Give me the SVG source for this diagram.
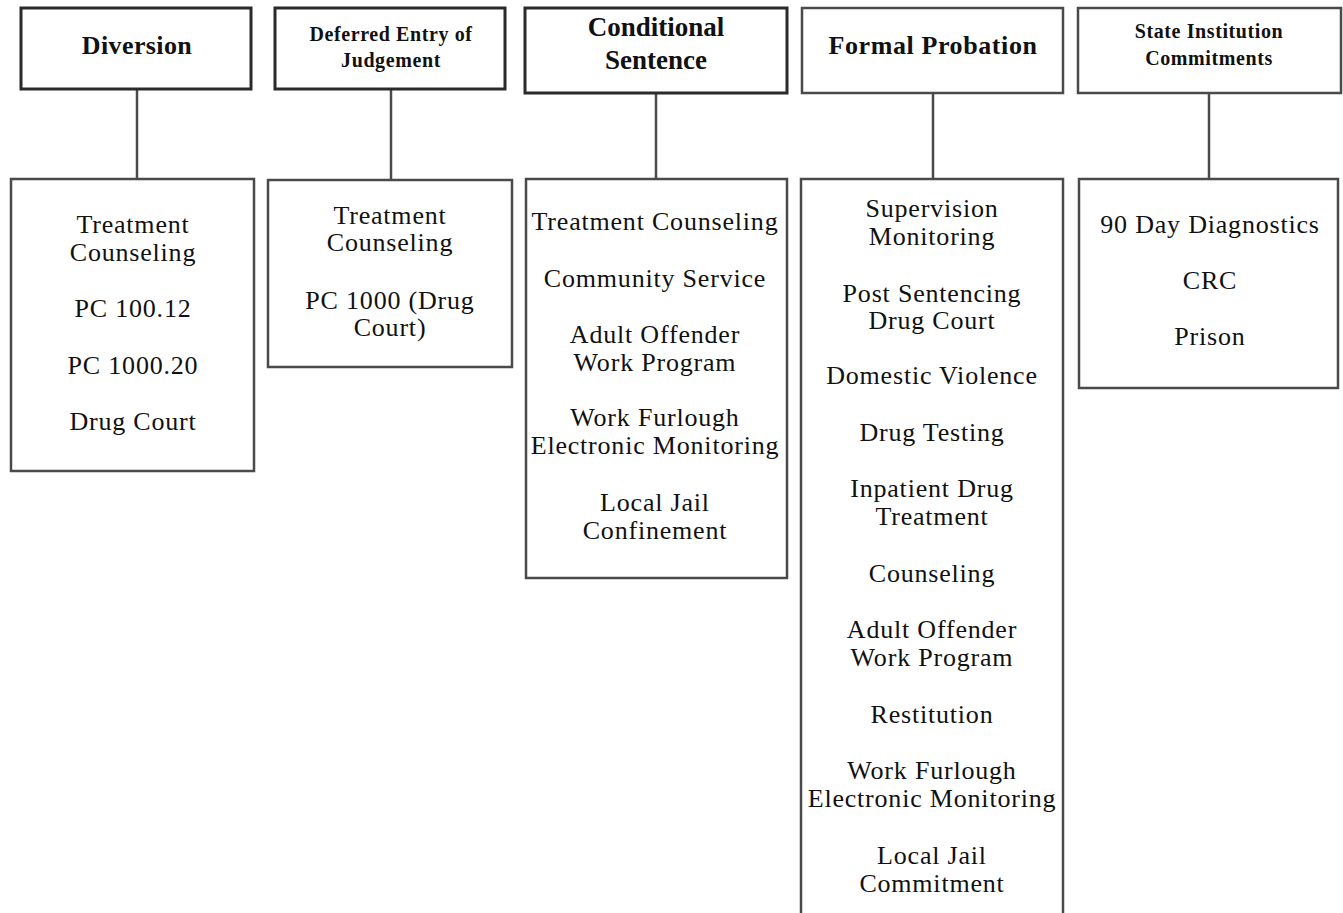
<svg xmlns="http://www.w3.org/2000/svg" width="1343" height="913" viewBox="0 0 1343 913">
<style>
.bg{fill:#ffffff}
.hd{fill:#ffffff;stroke:#2a2a2a;stroke-width:3}
.hd2{fill:#ffffff;stroke:#4a4a4a;stroke-width:2.5}
.sb{fill:#ffffff;stroke:#4a4a4a;stroke-width:2.5}
.cn{stroke:#4a4a4a;stroke-width:2.5;fill:none}
.h{font-family:"Liberation Serif","Times New Roman",serif;font-weight:bold;fill:#111;text-anchor:middle}
.hs{letter-spacing:0.6px}
.t{font-family:"Liberation Serif","Times New Roman",serif;font-size:26px;letter-spacing:0.8px;fill:#111;text-anchor:middle}
</style>
<rect class="bg" x="0" y="0" width="1343" height="913"/>
<g id="connectors">
<line class="cn" x1="137" y1="89" x2="137" y2="179"/>
<line class="cn" x1="391" y1="89" x2="391" y2="180"/>
<line class="cn" x1="656" y1="93" x2="656" y2="179"/>
<line class="cn" x1="933" y1="93" x2="933" y2="179"/>
<line class="cn" x1="1209" y1="93" x2="1209" y2="179"/>
</g>
<g id="diversion">
<rect class="hd" x="21" y="8" width="230" height="81"/>
<text class="h" x="137" y="54" font-size="26" letter-spacing="0.4">Diversion</text>
</g>
<g id="diversion-options">
<rect class="sb" x="11" y="179" width="243" height="292"/>
<text class="t" x="133" y="233">Treatment</text>
<text class="t" x="133" y="261">Counseling</text>
<text class="t" x="133" y="317">PC 100.12</text>
<text class="t" x="133" y="374">PC 1000.20</text>
<text class="t" x="133" y="430">Drug Court</text>
</g>
<g id="dej">
<rect class="hd" x="275" y="8" width="230" height="81"/>
<text class="h hs" x="391" y="41" font-size="20">Deferred Entry of</text>
<text class="h hs" x="391" y="67" font-size="20">Judgement</text>
</g>
<g id="dej-options">
<rect class="sb" x="268" y="180" width="244" height="187"/>
<text class="t" x="390" y="224">Treatment</text>
<text class="t" x="390" y="251">Counseling</text>
<text class="t" x="390" y="309">PC 1000 (Drug</text>
<text class="t" x="390" y="336">Court)</text>
</g>
<g id="conditional">
<rect class="hd" x="525" y="8" width="262" height="85"/>
<text class="h" x="656" y="36" font-size="27">Conditional</text>
<text class="h" x="656" y="69" font-size="27">Sentence</text>
</g>
<g id="conditional-options">
<rect class="sb" x="526" y="179" width="261" height="399"/>
<text class="t" x="655" y="230">Treatment Counseling</text>
<text class="t" x="655" y="287">Community Service</text>
<text class="t" x="655" y="343">Adult Offender</text>
<text class="t" x="655" y="371">Work Program</text>
<text class="t" x="655" y="426">Work Furlough</text>
<text class="t" x="655" y="454">Electronic Monitoring</text>
<text class="t" x="655" y="511">Local Jail</text>
<text class="t" x="655" y="539">Confinement</text>
</g>
<g id="formal">
<rect class="hd2" x="802" y="8" width="261" height="85"/>
<text class="h" x="933" y="54" font-size="26" letter-spacing="0.6">Formal Probation</text>
</g>
<g id="formal-options">
<rect class="sb" x="801" y="179" width="262" height="745"/>
<text class="t" x="932" y="217">Supervision</text>
<text class="t" x="932" y="245">Monitoring</text>
<text class="t" x="932" y="302">Post Sentencing</text>
<text class="t" x="932" y="329">Drug Court</text>
<text class="t" x="932" y="384">Domestic Violence</text>
<text class="t" x="932" y="441">Drug Testing</text>
<text class="t" x="932" y="497">Inpatient Drug</text>
<text class="t" x="932" y="525">Treatment</text>
<text class="t" x="932" y="582">Counseling</text>
<text class="t" x="932" y="638">Adult Offender</text>
<text class="t" x="932" y="666">Work Program</text>
<text class="t" x="932" y="723">Restitution</text>
<text class="t" x="932" y="779">Work Furlough</text>
<text class="t" x="932" y="807">Electronic Monitoring</text>
<text class="t" x="932" y="864">Local Jail</text>
<text class="t" x="932" y="892">Commitment</text>
</g>
<g id="state">
<rect class="hd2" x="1078" y="8" width="263" height="85"/>
<text class="h hs" x="1209" y="38" font-size="20">State Institution</text>
<text class="h hs" x="1209" y="65" font-size="20">Commitments</text>
</g>
<g id="state-options">
<rect class="sb" x="1079" y="179" width="259" height="209"/>
<text class="t" x="1210" y="233">90 Day Diagnostics</text>
<text class="t" x="1210" y="289">CRC</text>
<text class="t" x="1210" y="345">Prison</text>
</g>
</svg>
